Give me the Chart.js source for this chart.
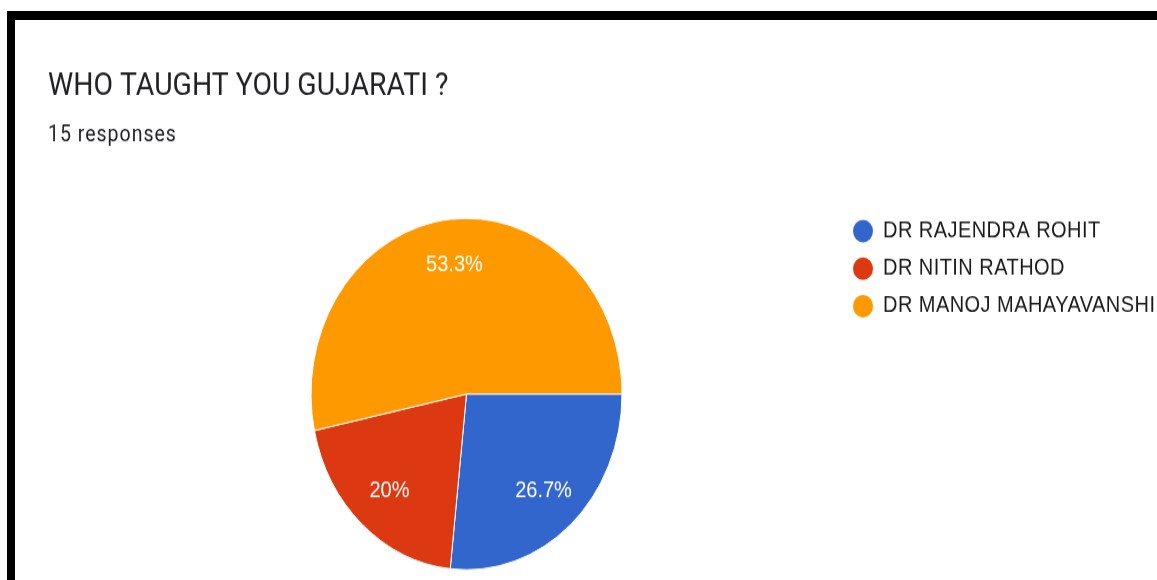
<!DOCTYPE html>
<html>
<head>
<meta charset="utf-8">
<script src="https://cdn.jsdelivr.net/npm/chart.js@4.4.0/dist/chart.umd.min.js"></script>
<style>
    html, body { margin: 0; padding: 0; background: #fff; overflow: hidden; }
    /* the screenshot is stretched vertically, so the canvas is too */
    #wrap { position: absolute; left: 0; top: 0; width: 1157px; height: 514px; transform-origin: 0 0; transform: scaleY(1.13); }
    #frameTop { position: absolute; left: 7px; top: 11px; width: 1150px; height: 9px; background: #000; }
    #frameLeft { position: absolute; left: 7px; top: 11px; width: 8px; height: 569px; background: #000; }
</style>
</head>
<body>
<div id="wrap"><canvas id="myChart_pie" width="1157" height="514"></canvas></div>
<div id="frameTop"></div>
<div id="frameLeft"></div>
<script>
var question = "WHO TAUGHT YOU GUJARATI ?";
var responses = "15 responses";
var teachers = ["DR RAJENDRA ROHIT", "DR NITIN RATHOD", "DR MANOJ MAHAYAVANSHI"]; // legend
var counts = [4, 3, 8]; // answers per teacher
var colors = ['#3366cc', '#dc3912', '#ff9900'];

var total = counts.reduce(function (a, b) { return a + b; }, 0);

// title, legend and % labels drawn on top of the pie
var formsText = {
    id: 'formsText',
    afterDraw: function (chart) {
        var ctx = chart.ctx;
        ctx.save();
        ctx.textAlign = 'left';
        ctx.textBaseline = 'alphabetic';
        ctx.fillStyle = '#202124';
        ctx.font = '28.4px Roboto';
        ctx.fillText(question, 48, 84);
        ctx.font = '19.5px Roboto';
        ctx.letterSpacing = '1px';
        ctx.fillText(responses, 48, 125.4);

        // legend
        ctx.textBaseline = 'middle';
        ctx.font = '20px "Liberation Sans"';
        ctx.letterSpacing = '0.45px';
        for (var i = 0; i < teachers.length; i++) {
            var y = 204.5 + i * 33.2;
            ctx.fillStyle = colors[i];
            ctx.beginPath();
            ctx.arc(863, y, 10, 0, Math.PI * 2);
            ctx.fill();
            ctx.fillStyle = '#1a1a1a';
            ctx.fillText(teachers[i], 883, y);
        }

        // percentages inside the slices
        var arcs = chart.getDatasetMeta(0).data;
        ctx.fillStyle = '#ffffff';
        ctx.textAlign = 'center';
        ctx.letterSpacing = '0px';
        ctx.font = '20px "Liberation Sans"';
        arcs.forEach(function (arc, i) {
            var mid = (arc.startAngle + arc.endAngle) / 2;
            var d = arc.outerRadius * 0.74;
            var pct = Math.round(counts[i] / total * 1000) / 10;
            ctx.fillText(pct + '%', arc.x + Math.cos(mid) * d, arc.y + Math.sin(mid) * d);
        });
        ctx.restore();
    }
};

myChart_pie = document.getElementById("myChart_pie");
new Chart(myChart_pie, {
    type: 'pie',
    data: {
        labels: teachers,
        datasets: [{
            data: counts,
            backgroundColor: colors,
            borderColor: '#ffffff',
            borderWidth: 1
        }]
    },
    options: {
        responsive: false,
        animation: false,
        rotation: 90, // google starts at 3 o'clock here
        layout: {
            padding: { left: 310.5, right: 534.5, top: 192.7, bottom: 9.3 }
        },
        plugins: {
            legend: { display: false },
            tooltip: { enabled: false }
        }
    },
    plugins: [formsText]
});
</script>
</body>
</html>
